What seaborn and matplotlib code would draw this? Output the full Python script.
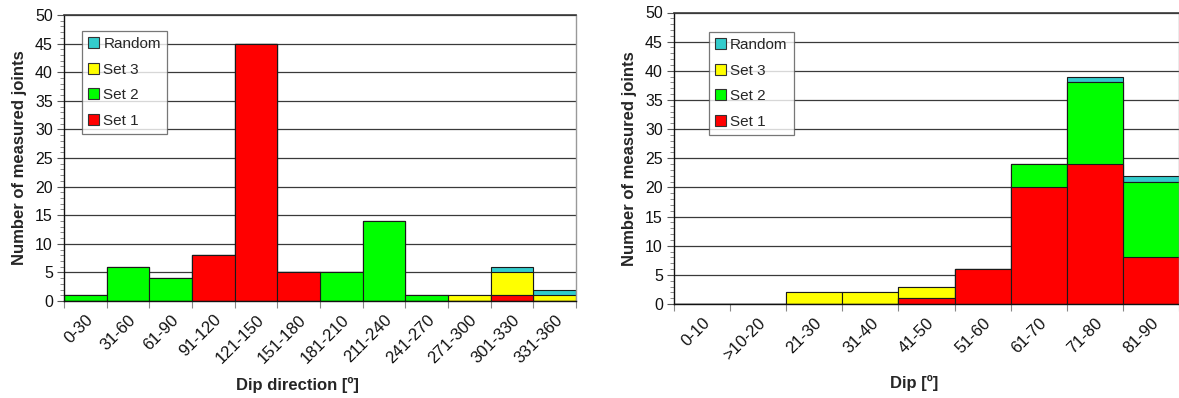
import matplotlib
matplotlib.use("Agg")
import matplotlib.pyplot as plt
from matplotlib.patches import Patch
from matplotlib.ticker import MultipleLocator
import numpy as np
import pandas as pd
import seaborn as sns

# Joint orientation counts per class
dipdir_bins = ["0-30", "31-60", "61-90", "91-120", "121-150", "151-180",
               "181-210", "211-240", "241-270", "271-300", "301-330", "331-360"]
dipdir_set1 = [0, 0, 0, 8, 45, 5, 0, 0, 0, 0, 1, 0]
dipdir_set2 = [1, 6, 4, 0, 0, 0, 5, 14, 1, 0, 0, 0]
dipdir_set3 = [0, 0, 0, 0, 0, 0, 0, 0, 0, 1, 4, 1]
dipdir_random = [0, 0, 0, 0, 0, 0, 0, 0, 0, 0, 1, 1]

dip_bins = ["0-10", ">10-20", "21-30", "31-40", "41-50", "51-60",
            "61-70", "71-80", "81-90"]
dip_set1 = [0, 0, 0, 0, 1, 6, 20, 24, 8]
dip_set2 = [0, 0, 0, 0, 0, 0, 4, 14, 13]
dip_set3 = [0, 0, 2, 2, 2, 0, 0, 0, 0]
dip_random = [0, 0, 0, 0, 0, 0, 0, 1, 1]

set_names = ["Set 1", "Set 2", "Set 3", "Random"]
set_colors = {"Set 1": "#FF0000", "Set 2": "#00FF00",
              "Set 3": "#FFFF00", "Random": "#33CCCC"}

sns.set_theme(style="white")
plt.rcParams["font.family"] = ["Liberation Sans", "DejaVu Sans"]

fig = plt.figure(figsize=(11.79, 3.98), dpi=100)
ax1 = fig.add_axes([64 / 1179, 1 - 301 / 398, 512 / 1179, 286 / 398])
ax2 = fig.add_axes([674 / 1179, 1 - 304 / 398, 505 / 1179, 291.5 / 398])


def stacked_hist(ax, bins, layers, xlabel, legend_anchor, xlabel_pos):
    df = pd.DataFrame({"bin": bins})
    running = np.zeros(len(bins))
    cums = []
    for name, vals in zip(set_names, layers):
        running = running + np.asarray(vals, dtype=float)
        cums.append((name, running.copy()))
    # Grid lines behind the bars
    ax.set_axisbelow(True)
    ax.yaxis.grid(True, color="#3a3a3a", linewidth=0.9)
    # Draw cumulative totals from the top layer down so each segment shows
    for name, cum in reversed(cums):
        df["value"] = cum
        sns.barplot(data=df, x="bin", y="value", order=bins, ax=ax,
                    color=set_colors[name], saturation=1, width=1.0,
                    edgecolor="#1a1a1a", linewidth=0.8, errorbar=None)
    n = len(bins)
    ax.set_xlim(-0.5, n - 0.5)
    ax.set_ylim(0, 50)
    ax.yaxis.set_major_locator(MultipleLocator(5))
    ax.yaxis.set_minor_locator(MultipleLocator(1))
    ax.tick_params(axis="y", which="major", direction="out", length=5,
                   width=0.8, color="#555555", labelsize=11.5, pad=3,
                   left=True, labelcolor="#111111")
    ax.tick_params(axis="y", which="minor", direction="out", length=3,
                   width=0.6, color="#777777", left=True)
    # Category boundary ticks with centred, rotated labels
    ax.set_xticks(np.arange(n))
    ax.set_xticklabels(bins, rotation=45, ha="right",
                       rotation_mode="anchor", fontsize=12, color="#111111")
    ax.tick_params(axis="x", which="major", length=0, pad=8)
    ax.set_xticks(np.arange(n + 1) - 0.5, minor=True)
    ax.tick_params(axis="x", which="minor", direction="out", length=5,
                   width=0.8, color="#888888", bottom=True)
    ax.set_xlabel(xlabel, fontsize=12, fontweight="bold")
    ax.xaxis.set_label_coords(*xlabel_pos)
    ax.set_ylabel("Number of measured joints", fontsize=12,
                  fontweight="bold", labelpad=6)
    for side in ("left", "bottom"):
        ax.spines[side].set_color("#111111")
        ax.spines[side].set_linewidth(1.0)
    ax.spines["top"].set_color("#3a3a3a")
    ax.spines["top"].set_linewidth(1.2)
    ax.spines["right"].set_color("#999999")
    ax.spines["right"].set_linewidth(1.0)
    handles = [Patch(facecolor=set_colors[s], edgecolor="#333333",
                     linewidth=0.8) for s in reversed(set_names)]
    leg = ax.legend(handles, list(reversed(set_names)), loc="upper left",
                    bbox_to_anchor=legend_anchor, fontsize=11,
                    frameon=True, fancybox=False, handlelength=0.75,
                    handleheight=0.75, handletextpad=0.25,
                    labelspacing=0.75, borderpad=0.4, borderaxespad=0)
    leg.get_frame().set_edgecolor("#555555")
    leg.get_frame().set_linewidth(0.9)
    leg.get_frame().set_facecolor("white")


stacked_hist(ax1, dipdir_bins,
             [dipdir_set1, dipdir_set2, dipdir_set3, dipdir_random],
             "Dip direction [º]", (0.035, 0.944), (0.455, -0.265))
stacked_hist(ax2, dip_bins,
             [dip_set1, dip_set2, dip_set3, dip_random],
             "Dip [º]", (0.069, 0.933), (0.476, -0.244))

fig.savefig("out.png", dpi=100)
